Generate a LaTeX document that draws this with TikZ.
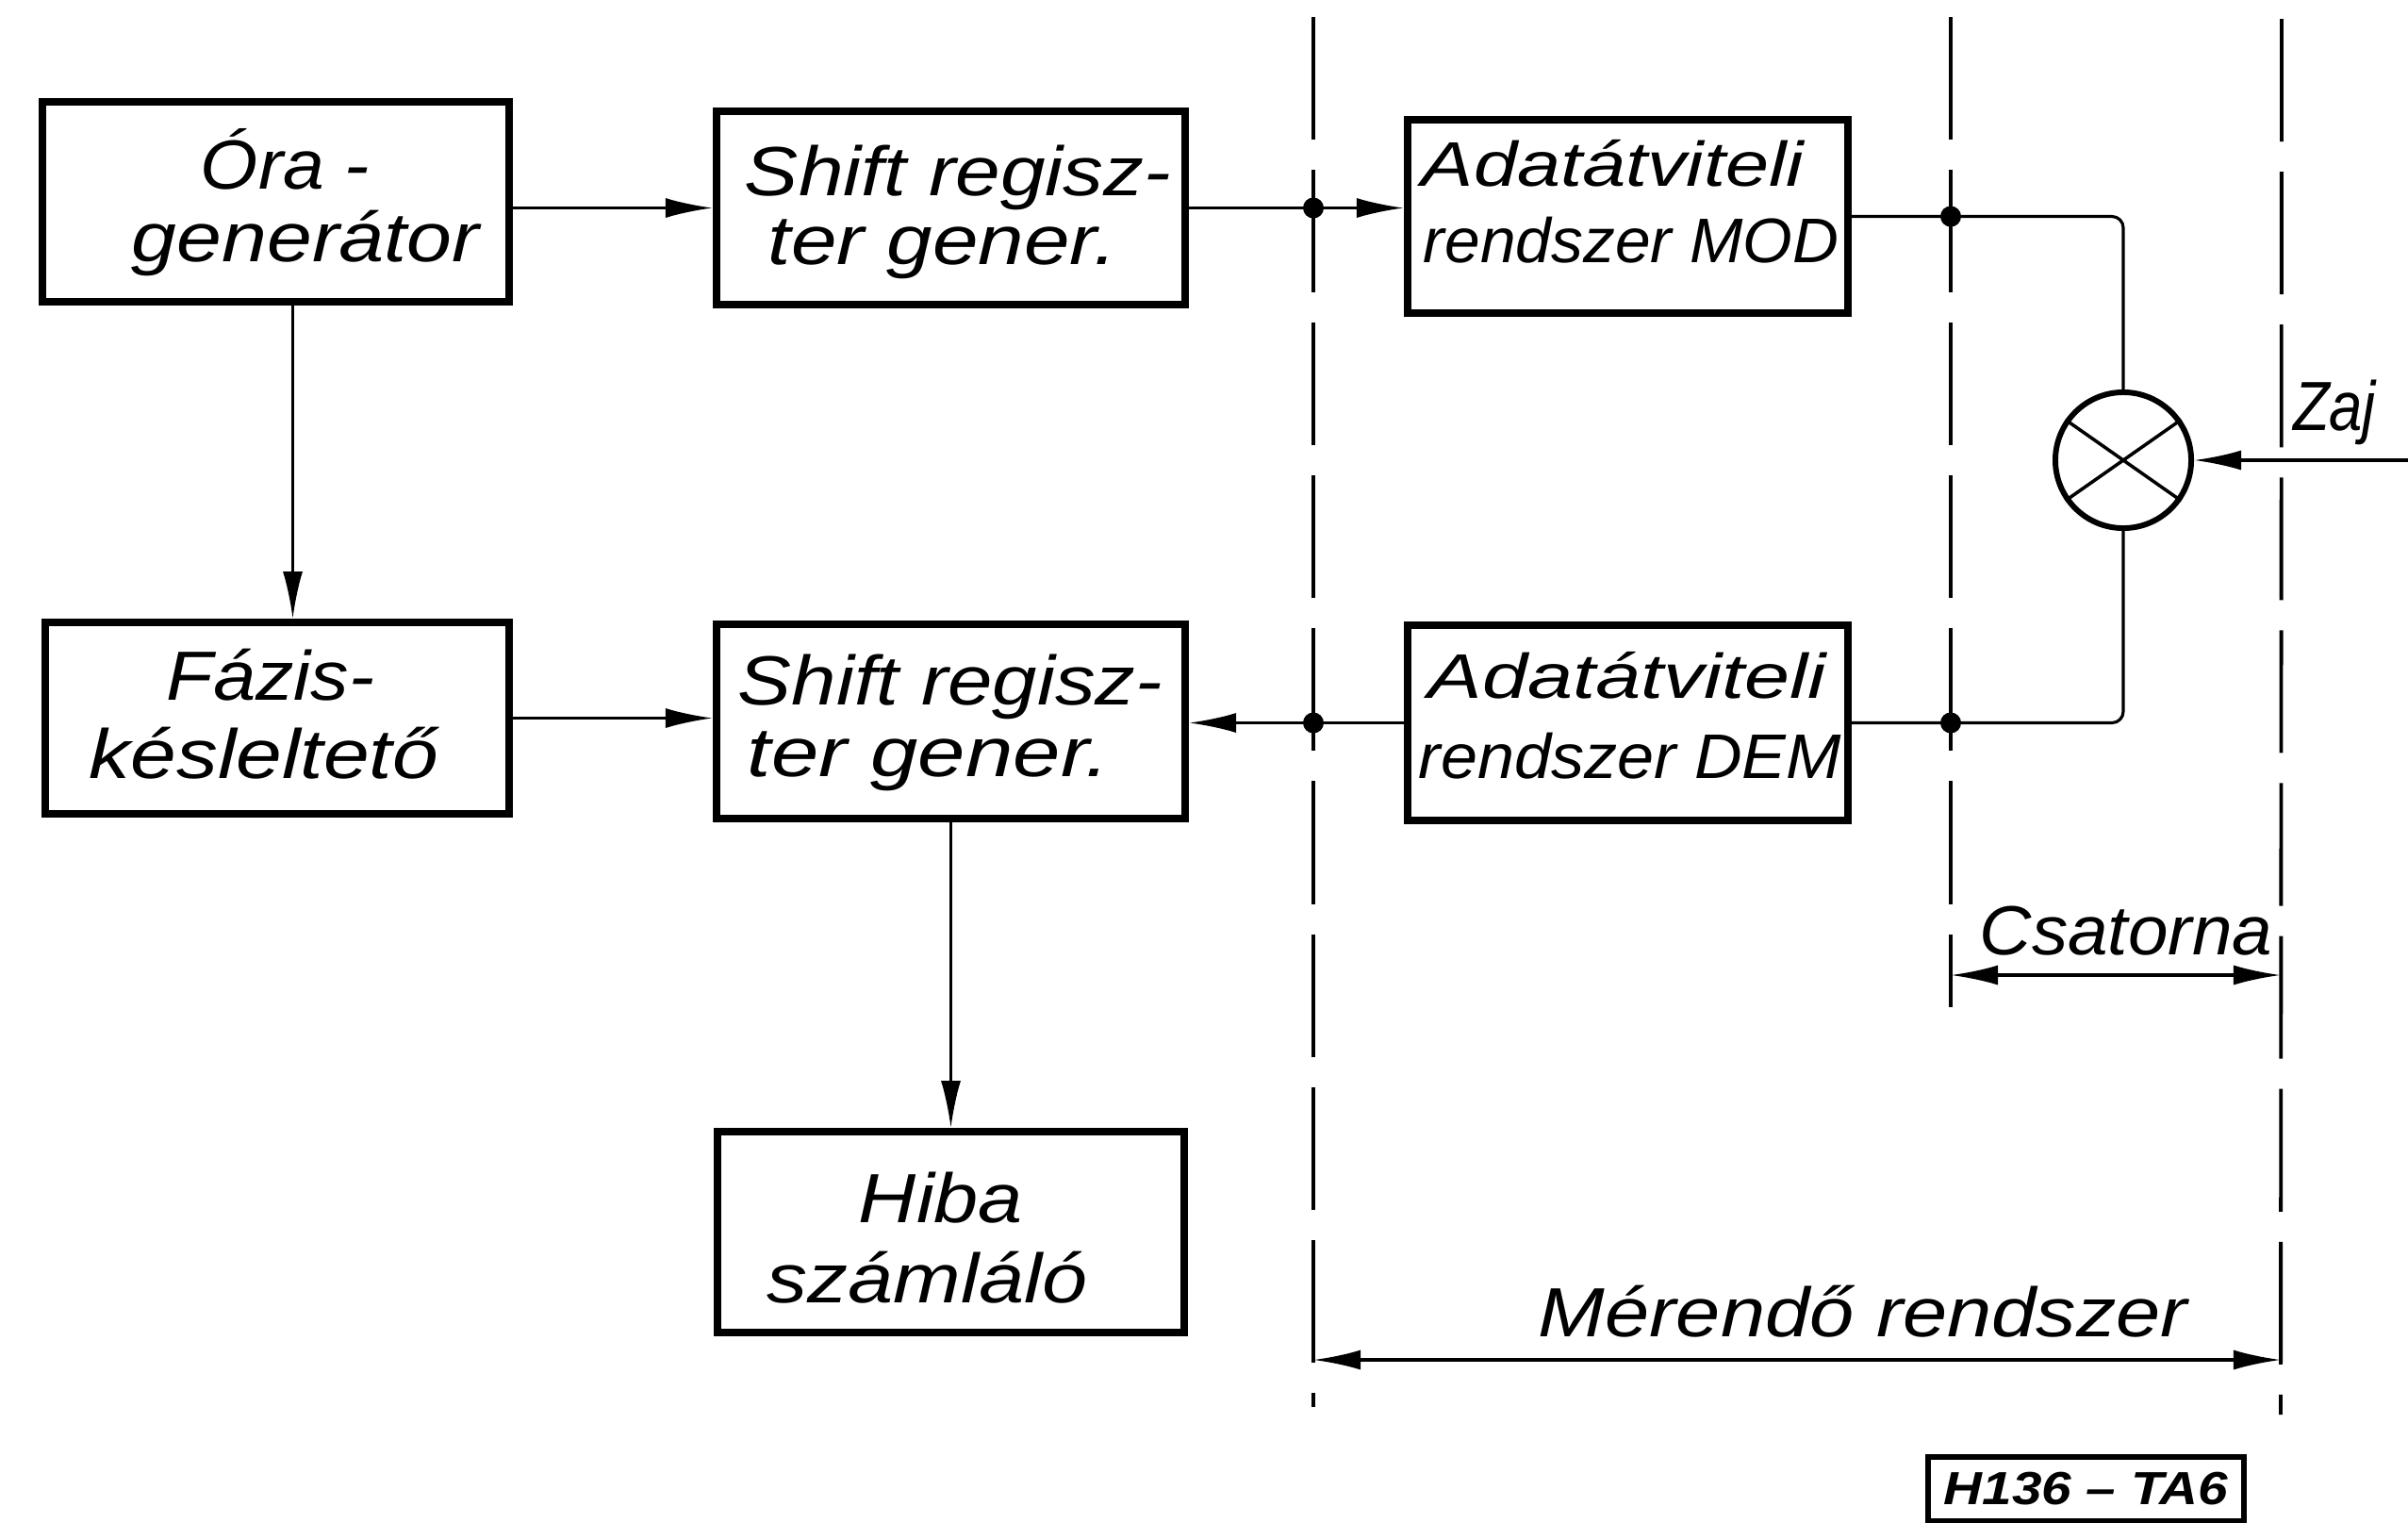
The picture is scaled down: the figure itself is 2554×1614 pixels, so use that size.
\documentclass[tikz,border=0pt]{standalone}
\usepackage{fontspec}
\setmainfont{Liberation Sans}
\usepackage{graphicx}
\usetikzlibrary{arrows.meta}
\newcommand{\fitto}[2]{\resizebox{#1}{\height}{#2}}
\begin{document}
\begin{tikzpicture}[x=0.01cm,y=-0.01cm,
  >={Latex[length=0.5cm,width=0.21cm]},
  blk/.style={draw, line width=2.2pt, inner sep=0pt},
  lbl/.style={inner sep=0pt, anchor=base, font=\fontsize{21}{25}\selectfont\itshape},
  lblS/.style={inner sep=0pt, anchor=base, font=\fontsize{19}{23}\selectfont\itshape},
  conn/.style={line width=0.9pt},
  dashline/.style={line width=1.1pt, dash pattern=on 1.3cm off 0.32cm},
  dot/.style={circle, fill, inner sep=0pt, minimum size=0.22cm},
  xline/.style={line width=1pt}]
\useasboundingbox (0,0) rectangle (2554,1614);
\fill[white] (0,0) rectangle (2554,1614);

% boxes
\node[blk, minimum width=4.95cm, minimum height=2.12cm] (ora) at (292.5,214) {};
\node[blk, minimum width=4.97cm, minimum height=2.05cm] (sh1) at (1008.5,220.5) {};
\node[blk, minimum width=4.67cm, minimum height=2.05cm] (mod) at (1726.5,229.5) {};
\node[blk, minimum width=4.92cm, minimum height=2.03cm] (faz) at (294,761.5) {};
\node[blk, minimum width=4.97cm, minimum height=2.06cm] (sh2) at (1008.5,765) {};
\node[blk, minimum width=4.67cm, minimum height=2.07cm] (dem) at (1726.5,766.5) {};
\node[blk, minimum width=4.95cm, minimum height=2.13cm] (hiba) at (1008.5,1306.5) {};
\node[draw, circle, line width=1.7pt, minimum size=1.44cm, inner sep=0pt] (mix) at (2252,488) {};

% texts
\node[lbl] (ora1) at (302.5,200) {\fitto{1.79cm}{Óra -}};
\node[lbl] (ora2) at (324,277) {\fitto{3.68cm}{generátor}};
\node[lbl] (sh1a) at (1016,207) {\fitto{4.52cm}{Shift regisz-}};
\node[lbl] (sh1b) at (1000,280) {\fitto{3.70cm}{ter gener.}};
\node[lblS] (mod1) at (1710.5,197) {\fitto{4.05cm}{Adatátviteli}};
\node[lblS] (mod2) at (1730,278) {\fitto{4.40cm}{rendszer MOD}};
\node[lbl] (faz1) at (287,742) {\fitto{2.20cm}{Fázis-}};
\node[lbl] (faz2) at (280,825) {\fitto{3.70cm}{késleltető}};
\node[lbl] (sh2a) at (1008,747) {\fitto{4.50cm}{Shift regisz-}};
\node[lbl] (sh2b) at (985,823) {\fitto{3.84cm}{ter gener.}};
\node[lblS] (dem1) at (1726,740) {\fitto{4.22cm}{Adatátviteli}};
\node[lblS] (dem2) at (1729,825) {\fitto{4.48cm}{rendszer DEM}};
\node[lbl] (hiba1) at (998,1296) {\fitto{1.74cm}{Hiba}};
\node[lbl] (hiba2) at (983.5,1381) {\fitto{3.39cm}{számláló}};
\node[lbl] (csat) at (2255,1012) {\fitto{3.10cm}{Csatorna}};
\node[lbl] (meres) at (1976,1417) {\fitto{6.88cm}{Mérendő rendszer}};
\node[lbl] (zaj) at (2476,456) {\fitto{0.88cm}{Zaj}};
\node[draw, line width=1.6pt, minimum width=3.35cm, minimum height=0.68cm, inner sep=0pt,
      font=\fontsize{14}{16}\selectfont\bfseries\itshape] (code) at (2212.5,1579) {\fitto{3.01cm}{H136 – TA6}};

% dashed boundaries
\coordinate (d1t) at (1393,18);  \coordinate (d1b) at (1393,1492);
\coordinate (d2t) at (2069,18);  \coordinate (d2b) at (2069,1068);
\coordinate (d3t) at (2420,20);  \coordinate (d3b) at (2419,1500);
\draw[dashline] (d1t) -- (d1b);
\draw[dashline] (d2t) -- (d2b);
\draw[dashline] (d3t) -- (d3b);

% connectors
\draw[conn,->] (sh1.west -| ora.east) -- (sh1.west);
\draw[conn,->] (sh1.east) -- (sh1.east -| mod.west);
\draw[conn, rounded corners=0.12cm] (mod.east) -- (mod.east -| mix.north) -- (mix.north);
\draw[conn, rounded corners=0.12cm] (mix.south) -- (mix.south |- dem.east) -- (dem.east);
\draw[conn,->] (dem.west) -- (dem.west -| sh2.east);
\draw[conn,->] (faz.east) -- (faz.east -| sh2.west);
\draw[conn,->] ([xshift=0.18cm]ora.south) -- ([xshift=0.18cm]ora.south |- faz.north);
\draw[conn,->] (sh2.south) -- (hiba.north);
\coordinate (zin) at (2560,488);
\draw[conn,->] (zin) -- (mix.east);
\draw[xline] (mix.145) -- (mix.325);
\draw[xline] (mix.215) -- (mix.35);

% junction dots
\node[dot] (j1) at (sh1.east -| d1t) {};
\node[dot] (j2) at (mod.east -| d2t) {};
\node[dot] (j3) at (dem.east -| d2t) {};
\node[dot] (j4) at (dem.west -| d1t) {};

% dimension arrows
\coordinate (cL) at (2069,1034); \coordinate (cR) at (2419,1034);
\draw[conn,<->] (cL) -- (cR);
\coordinate (mL) at (1393,1442); \coordinate (mR) at (2419,1442);
\draw[conn,<->] (mL) -- (mR);
\end{tikzpicture}
\end{document}
